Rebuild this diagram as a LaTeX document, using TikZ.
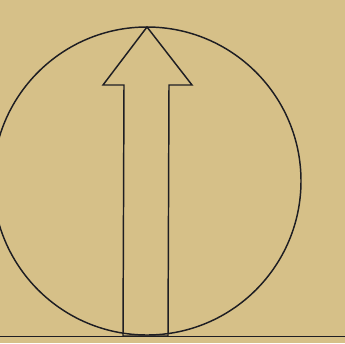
\documentclass[tikz,border=0pt]{standalone}
\definecolor{paper}{RGB}{214,192,136}
\definecolor{ink}{RGB}{30,30,35}
\tikzset{every picture/.style={line width=1.1pt}}
\begin{document}
\begin{tikzpicture}[x=0.75pt,y=0.75pt,yscale=-1,xscale=1]
%set diagram to 345 x 343
\useasboundingbox (0,0) rectangle (345,343);
\fill [paper] (0,0) rectangle (345,343);
\clip (0,0) rectangle (345,343);

%Shape: Circle
\draw [ink] (147,181) circle [radius=154];

%Shape: Arrow
\draw [ink] (147,27) -- (192,85) -- (169,85) -- (168,336) -- (123,336) -- (124,85) -- (103,85) -- cycle ;

%Straight Lines: ground
\draw [ink, line width=1.3pt] (0,336.5) -- (345,336.5) ;

\end{tikzpicture}
\end{document}
